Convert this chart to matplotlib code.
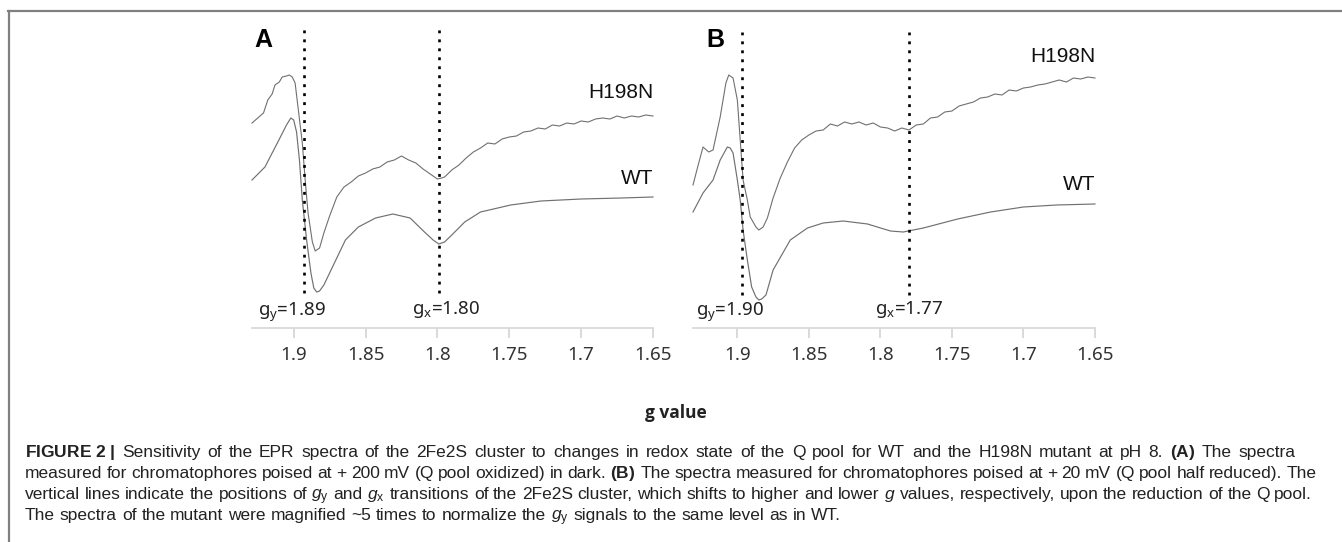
import re
import matplotlib
matplotlib.use("Agg")
import matplotlib.pyplot as plt
from matplotlib.lines import Line2D
from matplotlib import font_manager

# ---------------- data (g value, intensity in arbitrary units) ----------------
# Panel A: +200 mV (Q pool oxidized)
a_h198n_g = [1.929, 1.925, 1.921, 1.918, 1.915, 1.913, 1.910, 1.908, 1.905, 1.903, 1.901, 1.899,
             1.897, 1.894, 1.892, 1.890, 1.887, 1.885, 1.882, 1.879, 1.875, 1.870, 1.865, 1.860,
             1.855, 1.850, 1.845, 1.840, 1.835, 1.830, 1.825, 1.820, 1.815, 1.810, 1.805, 1.800,
             1.797, 1.795, 1.790, 1.785, 1.780, 1.775, 1.770, 1.765, 1.760, 1.755, 1.750, 1.745,
             1.740, 1.735, 1.730, 1.725, 1.720, 1.715, 1.710, 1.705, 1.700, 1.695, 1.690, 1.685,
             1.680, 1.675, 1.670, 1.665, 1.660, 1.655, 1.650]
a_h198n_i = [205, 210, 215, 228, 234, 243, 246, 251, 252, 253, 251, 245,
             221, 185, 148, 115, 86, 77, 80, 95, 112, 131, 141, 146,
             152, 155, 159, 161, 166, 168, 172, 168, 165, 159, 154, 149,
             150, 151, 158, 163, 170, 176, 180, 185, 184, 189, 191, 192,
             196, 197, 200, 199, 203, 202, 205, 204, 207, 206, 209, 210,
             209, 212, 210, 212, 211, 213, 212]
a_wt_g = [1.929, 1.920, 1.911, 1.905, 1.902, 1.900, 1.898, 1.896, 1.894, 1.891, 1.888, 1.886,
          1.884, 1.882, 1.879, 1.873, 1.864, 1.855, 1.843, 1.831, 1.819, 1.809, 1.803, 1.799,
          1.795, 1.790, 1.781, 1.770, 1.749, 1.728, 1.700, 1.672, 1.650]
a_wt_i = [148, 161, 186, 203, 210, 208, 196, 168, 128, 88, 55, 40,
          36, 37, 43, 61, 88, 101, 110, 114, 110, 96, 88, 84,
          86, 93, 106, 116, 123, 127, 129, 130, 131]

# Panel B: +20 mV (Q pool half reduced)
b_h198n_g = [1.931, 1.927, 1.924, 1.920, 1.917, 1.912, 1.908, 1.906, 1.903, 1.900, 1.898, 1.896,
             1.893, 1.891, 1.887, 1.885, 1.882, 1.879, 1.875, 1.870, 1.865, 1.860, 1.855, 1.850,
             1.845, 1.840, 1.835, 1.830, 1.825, 1.820, 1.815, 1.810, 1.805, 1.800, 1.795, 1.790,
             1.785, 1.780, 1.775, 1.770, 1.765, 1.760, 1.755, 1.750, 1.745, 1.740, 1.735, 1.730,
             1.725, 1.720, 1.715, 1.710, 1.705, 1.700, 1.695, 1.690, 1.685, 1.680, 1.675, 1.670,
             1.665, 1.660, 1.655, 1.650]
b_h198n_i = [143, 165, 181, 176, 178, 211, 245, 253, 250, 228, 188, 148,
             128, 111, 101, 98, 101, 110, 130, 150, 166, 180, 188, 193,
             197, 198, 204, 202, 206, 204, 206, 203, 205, 201, 200, 197,
             200, 198, 203, 204, 210, 211, 216, 217, 222, 224, 226, 230,
             231, 234, 233, 238, 237, 240, 241, 243, 244, 246, 248, 246,
             250, 249, 251, 250]
b_wt_g = [1.931, 1.924, 1.917, 1.912, 1.907, 1.905, 1.903, 1.900, 1.898, 1.896, 1.893, 1.890,
          1.887, 1.885, 1.883, 1.880, 1.875, 1.863, 1.851, 1.840, 1.826, 1.809, 1.793, 1.784,
          1.770, 1.746, 1.723, 1.700, 1.677, 1.650]
b_wt_i = [116, 135, 148, 168, 181, 180, 175, 148, 128, 98, 68, 41,
          31, 28, 29, 33, 58, 88, 100, 105, 107, 104, 97, 96,
          100, 109, 116, 121, 123, 124]

tick_values = [1.9, 1.85, 1.8, 1.75, 1.7, 1.65]
tick_labels = ["1.9", "1.85", "1.8", "1.75", "1.7", "1.65"]

a_lines = [1.893, 1.799]
a_line_labels = ["1.89", "1.80"]
b_lines = [1.897, 1.780]
b_line_labels = ["1.90", "1.77"]

caption_lines = [
    r"$\mathbf{FIGURE\ 2\ |}$ Sensitivity of the EPR spectra of the 2Fe2S cluster to changes in redox state of the Q pool for WT and the H198N mutant at pH 8. $\mathbf{(A)}$ The spectra",
    r"measured for chromatophores poised at + 200 mV (Q pool oxidized) in dark. $\mathbf{(B)}$ The spectra measured for chromatophores poised at + 20 mV (Q pool half reduced). The",
    r"vertical lines indicate the positions of $\mathit{g}_\mathsf{y}$ and $\mathit{g}_\mathsf{x}$ transitions of the 2Fe2S cluster, which shifts to higher and lower $\mathit{g}$ values, respectively, upon the reduction of the Q pool.",
    r"The spectra of the mutant were magnified ~5 times to normalize the $\mathit{g}_\mathsf{y}$ signals to the same level as in WT.",
]
caption_justify = [True, True, True, False]

# ---------------- fonts ----------------
def has_font(name):
    try:
        font_manager.findfont(font_manager.FontProperties(family=name), fallback_to_default=False)
        return True
    except Exception:
        return False

cap_font = "Liberation Sans Narrow" if has_font("Liberation Sans Narrow") else "Liberation Sans"

plt.rcParams["mathtext.fontset"] = "custom"
plt.rcParams["mathtext.rm"] = "Noto Sans"
plt.rcParams["mathtext.it"] = cap_font + ":italic"
plt.rcParams["mathtext.bf"] = cap_font + ":bold"
plt.rcParams["mathtext.sf"] = cap_font

W, H = 1342, 542
fig = plt.figure(figsize=(W / 100, H / 100), dpi=100)

curve_color = "#707070"

def px2fig(x, y):
    return x / W, 1 - y / H

def make_panel(left_px, right_px, xlim, letter, letter_g, h_g, h_i, w_g, w_i,
               vlines, vlabels, h_lab_i, w_lab_i, vtop, vbot, label_g_y, label_g_x):
    bottom_px, top_px = 328, 20
    ax = fig.add_axes([left_px / W, 1 - bottom_px / H, (right_px - left_px) / W, (bottom_px - top_px) / H])
    ax.set_xlim(*xlim)
    ax.set_ylim(0, bottom_px - top_px)
    ax.plot(h_g, h_i, color=curve_color, lw=0.8, clip_on=False)
    ax.plot(w_g, w_i, color=curve_color, lw=0.85, clip_on=False)
    for gv in vlines:
        ax.plot([gv, gv], [vbot, vtop], color="black", lw=1.9, linestyle=(0, (1.1, 2.3)),
                solid_capstyle="butt", dash_capstyle="butt")
    ax.text(letter_g, 288, letter, fontsize=18, fontweight="bold", family="Liberation Sans",
            ha="left", va="center")
    ax.text(1.65, h_lab_i, "H198N", fontsize=15, family="Liberation Sans", ha="right",
            va="center", color="#111111")
    ax.text(1.65, w_lab_i, "WT", fontsize=15, family="Liberation Sans", ha="right",
            va="center", color="#111111")
    ax.text(label_g_y, 16, r"g$_\mathrm{y}$=" + vlabels[0], fontsize=13.5, family="Noto Sans",
            ha="center", va="center", color="#222222")
    ax.text(label_g_x, 18, r"g$_\mathrm{x}$=" + vlabels[1], fontsize=13.5, family="Noto Sans",
            ha="center", va="center", color="#222222")
    for s in ["top", "right", "left"]:
        ax.spines[s].set_visible(False)
    ax.spines["bottom"].set_color("#d9d9d9")
    ax.spines["bottom"].set_linewidth(1.3)
    ax.set_yticks([])
    ax.set_xticks(tick_values)
    ax.set_xticklabels(tick_labels, fontsize=13.5, family="Noto Sans", color="#333333")
    ax.tick_params(axis="x", direction="out", length=7, width=1.1, color="#cfcfcf", pad=6)
    ax.patch.set_alpha(0)
    return ax

make_panel(252, 653, (1.929, 1.65), "A", 1.927, a_h198n_g, a_h198n_i, a_wt_g, a_wt_i,
           a_lines, a_line_labels, 236, 150, 300, 35, 1.901, 1.794)
make_panel(693, 1095, (1.931, 1.65), "B", 1.922, b_h198n_g, b_h198n_i, b_wt_g, b_wt_i,
           b_lines, b_line_labels, 271, 143, 296, 33, 1.905, 1.780)

fx, fy = px2fig(676, 413)
fig.text(fx, fy, "g value", fontsize=12.5, fontweight="bold", family=["Open Sans", "DejaVu Sans"],
         ha="center", va="center", color="#222222")

# caption: justified lines (words spread between left and right margins)
renderer = fig.canvas.get_renderer()
cap_y = [452, 473, 494, 515]
cap_right = [1295, 1317, 1312, None]
cap_left = 25
cap_size = 12.5
sp = fig.text(0, 0, "a a", fontsize=cap_size, family=cap_font)
sp2 = fig.text(0, 0, "aa", fontsize=cap_size, family=cap_font)
space_w = sp.get_window_extent(renderer=renderer).width - sp2.get_window_extent(renderer=renderer).width
sp.remove()
sp2.remove()
for line, yy, just, rpx in zip(caption_lines, cap_y, caption_justify, cap_right):
    words = re.split(r"(?<!\\) ", line)
    arts, widths = [], []
    for w in words:
        t = fig.text(0, 1 - (yy + 5) / H, w, fontsize=cap_size, family=cap_font, ha="left",
                     va="baseline", color="#222222")
        arts.append(t)
        widths.append(t.get_window_extent(renderer=renderer).width)
    if just and len(words) > 1:
        gap = (rpx - cap_left - sum(widths)) / (len(words) - 1)
    else:
        gap = space_w
    x = cap_left
    for t, wd in zip(arts, widths):
        t.set_x(x / W)
        x += wd + gap

# frame lines
fig.add_artist(Line2D([8 / W, 1.0], [1 - 11 / H, 1 - 11 / H], color="#808080", lw=1.6))
fig.add_artist(Line2D([9 / W, 9 / W], [1 - 11 / H, 0.0], color="#808080", lw=1.6))

fig.savefig("out.png", dpi=100)
